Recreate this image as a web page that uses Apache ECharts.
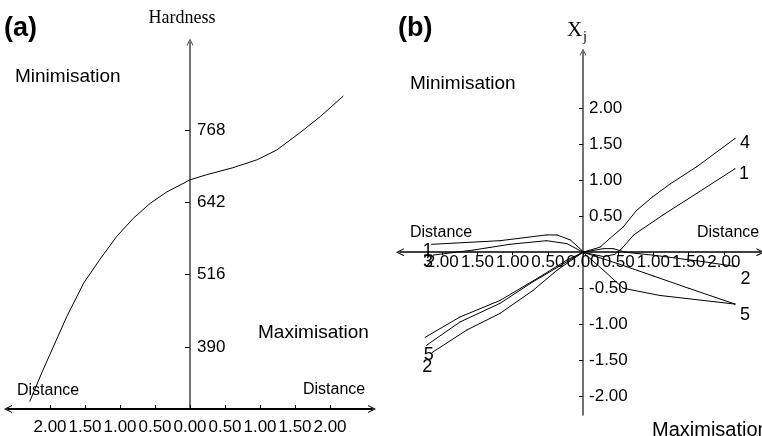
<!DOCTYPE html>
<html>
<head>
<meta charset="utf-8">
<script src="https://cdn.jsdelivr.net/npm/echarts@6.0.0/dist/echarts.min.js"></script>
<style>
  html, body { margin: 0; padding: 0; background: #fff; }
  #chart { width: 762px; height: 436px; }
</style>
</head>
<body>
<div id="chart"></div>
<script>
// panel (a): hardness against distance
const hardnessCurve = [
  [-2.29, 295], [-2.10, 350], [-1.76, 443], [-1.52, 501], [-1.29, 542],
  [-1.05, 582], [-0.81, 614], [-0.57, 640], [-0.33, 660], [0, 681],
  [0.24, 690], [0.61, 702], [0.96, 716], [1.24, 733], [1.57, 763],
  [1.86, 791], [2.19, 827]
];
const hardnessTicks = [390, 516, 642, 768];
const distanceTicks = [-2, -1.5, -1, -0.5, 0, 0.5, 1, 1.5, 2];

// panel (b): X_j traces, each listed from the origin outwards
const xjTicks = [-2, -1.5, -1, -0.5, 0.5, 1, 1.5, 2];
const minVar1 = [[0, 0], [-0.02, 0.03], [-0.18, 0.17], [-0.37, 0.24], [-0.52, 0.24], [-1.18, 0.16], [-2.15, 0.11]];
const minVar3 = [[0, 0], [-0.23, 0.12], [-0.52, 0.16], [-1.04, 0.11], [-1.56, 0.03], [-2.13, -0.04]];
const minVar4 = [[0, 0], [-0.23, -0.11], [-0.61, -0.34], [-1.18, -0.67], [-1.75, -0.90], [-2.24, -1.18]];
const minVar5 = [[0, 0], [-0.71, -0.41], [-1.18, -0.71], [-1.75, -0.97], [-2.22, -1.29]];
const minVar2 = [[0, 0], [-0.37, -0.25], [-0.71, -0.53], [-1.18, -0.85], [-1.65, -1.08], [-2.14, -1.39]];
const maxVar4 = [[0, 0], [0.24, 0.07], [0.38, 0.19], [0.57, 0.35], [0.76, 0.58], [0.99, 0.77], [1.24, 0.95], [1.62, 1.19], [2.16, 1.58]];
const maxVar1 = [[0, 0], [0.29, -0.06], [0.45, -0.03], [0.55, 0.05], [0.72, 0.24], [1.14, 0.52], [1.62, 0.82], [2.16, 1.16]];
const maxVar2 = [[0, 0], [0.29, 0.05], [0.43, 0.05], [0.6, 0.0], [0.99, -0.04], [1.7, -0.13], [2.18, -0.2]];
const maxVar5 = [[0, 0], [0.5, -0.16], [1.0, -0.33], [1.5, -0.5], [2.16, -0.72]];
const maxVar3 = [[0, 0], [0.29, -0.25], [0.57, -0.5], [1.09, -0.6], [2.16, -0.72]];

const tickFont = "'Liberation Sans', Arial, sans-serif";
const wordFont = "'Liberation Sans', Arial, sans-serif";
const chevron = 'path://M0,10 L5,0 L10,10 L8.6,10 L5,2.8 L1.4,10 Z';

// pixel layout of the two panels
const gridA = { left: 8, width: 364, top: 42, height: 367 };
const gridB = { left: 400, width: 360.4, top: 52, height: 363 };
const xMinA = -2.6, xMaxA = 2.6, yMinA = 282, yMaxA = 921;
const xMinB = -2.6, xMaxB = 2.52, yMinB = -2.26, yMaxB = 2.78;
// offsets that put each axis on the other axis' zero
const zeroOffsetAY = -gridA.width * (0 - xMinA) / (xMaxA - xMinA);
const zeroOffsetBY = -gridB.width * (0 - xMinB) / (xMaxB - xMinB);
const zeroOffsetBX = -gridB.height * (0 - yMinB) / (yMaxB - yMinB);

const myChart = echarts.init(document.getElementById('chart'), null, { renderer: 'canvas' });

const absLabel = (v) => Math.abs(v).toFixed(2);

// attach the trace number to the last point of a trace
const tagEnd = (points, text, offset) => points.map((p, i) => {
  if (i !== points.length - 1 || !text) return p;
  return {
    value: p,
    label: {
      show: true, formatter: text, position: 'inside', offset: offset,
      fontFamily: tickFont, fontSize: 18, color: '#000'
    }
  };
});

const traceSeries = (points, text, offset) => ({
  type: 'line',
  xAxisIndex: 1,
  yAxisIndex: 1,
  data: tagEnd(points, text, offset),
  showSymbol: true,
  symbol: 'circle',
  symbolSize: 1,
  itemStyle: { color: '#000' },
  lineStyle: { color: '#000', width: 1 },
  silent: true,
  z: 3
});

const labelBase = {
  fontFamily: tickFont, fontSize: 17, color: '#000',
  showMinLabel: true, showMaxLabel: true, hideOverlap: false
};

const option = {
  animation: false,
  backgroundColor: '#fff',
  grid: [gridA, gridB],
  xAxis: [
    {
      type: 'value', gridIndex: 0, min: xMinA, max: xMaxA,
      splitLine: { show: false },
      axisLine: {
        onZero: false,
        lineStyle: { color: '#000', width: 2 },
        symbol: [chevron, chevron], symbolSize: [8, 8]
      },
      axisTick: { customValues: distanceTicks, length: 4, inside: true, lineStyle: { color: '#000' } },
      axisLabel: Object.assign({ customValues: distanceTicks, formatter: absLabel, margin: 10 }, labelBase)
    },
    {
      type: 'value', gridIndex: 1, min: xMinB, max: xMaxB,
      position: 'bottom', offset: zeroOffsetBX,
      splitLine: { show: false },
      axisLine: {
        onZero: false,
        lineStyle: { color: '#000', width: 1.5 },
        symbol: [chevron, chevron], symbolSize: [8, 8]
      },
      axisTick: { customValues: distanceTicks, length: 3, lineStyle: { color: '#000' } },
      axisLabel: Object.assign({ customValues: distanceTicks, formatter: absLabel, margin: 2 }, labelBase)
    }
  ],
  yAxis: [
    {
      type: 'value', gridIndex: 0, min: yMinA, max: yMaxA,
      position: 'left', offset: zeroOffsetAY,
      splitLine: { show: false },
      axisLine: {
        onZero: false,
        lineStyle: { color: '#444', width: 1.5 },
        symbol: ['none', chevron], symbolSize: [7, 7]
      },
      axisTick: { customValues: hardnessTicks, length: 5, lineStyle: { color: '#000' } },
      axisLabel: Object.assign({ customValues: hardnessTicks, inside: true, margin: 7 }, labelBase)
    },
    {
      type: 'value', gridIndex: 1, min: yMinB, max: yMaxB,
      position: 'left', offset: zeroOffsetBY,
      splitLine: { show: false },
      axisLine: {
        onZero: false,
        lineStyle: { color: '#444', width: 1.5 },
        symbol: ['none', chevron], symbolSize: [7, 7]
      },
      axisTick: { customValues: xjTicks, length: 4, lineStyle: { color: '#000' } },
      axisLabel: Object.assign({
        customValues: xjTicks, inside: true, margin: 6,
        formatter: (v) => v.toFixed(2)
      }, labelBase)
    }
  ],
  series: [
    {
      type: 'line', xAxisIndex: 0, yAxisIndex: 0,
      data: hardnessCurve, showSymbol: false, silent: true,
      lineStyle: { color: '#000', width: 1 }
    },
    traceSeries(minVar1, '1', [-4, 7]),
    traceSeries(minVar3, '3', [-5, 7]),
    traceSeries(minVar4, '', [0, 0]),
    traceSeries(minVar5, '5', [2, 10]),
    traceSeries(minVar2, '2', [-5, 15]),
    traceSeries(maxVar4, '4', [10, 5]),
    traceSeries(maxVar1, '1', [9, 5]),
    traceSeries(maxVar2, '2', [9, 12]),
    traceSeries(maxVar5, '5', [10, 11]),
    traceSeries(maxVar3, '', [0, 0])
  ],
  graphic: [
    { type: 'text', x: 4, y: 29, style: { text: '(a)', font: "bold 27px 'Liberation Sans', Arial, sans-serif", fill: '#000', verticalAlign: 'middle', textVerticalAlign: 'middle' } },
    { type: 'text', x: 182, y: 18, style: { text: 'Hardness', font: "18px 'Liberation Serif', serif", fill: '#000', align: 'center', textAlign: 'center', verticalAlign: 'middle', textVerticalAlign: 'middle' } },
    { type: 'text', x: 15, y: 77, style: { text: 'Minimisation', font: '19px ' + wordFont, fill: '#000', verticalAlign: 'middle', textVerticalAlign: 'middle' } },
    { type: 'text', x: 258, y: 333, style: { text: 'Maximisation', font: '19px ' + wordFont, fill: '#000', verticalAlign: 'middle', textVerticalAlign: 'middle' } },
    { type: 'text', x: 17, y: 391, style: { text: 'Distance', font: '16px ' + wordFont, fill: '#000', verticalAlign: 'middle', textVerticalAlign: 'middle' } },
    { type: 'text', x: 303, y: 390, style: { text: 'Distance', font: '16px ' + wordFont, fill: '#000', verticalAlign: 'middle', textVerticalAlign: 'middle' } },
    { type: 'text', x: 398, y: 29, style: { text: '(b)', font: "bold 27px 'Liberation Sans', Arial, sans-serif", fill: '#000', verticalAlign: 'middle', textVerticalAlign: 'middle' } },
    { type: 'text', x: 567, y: 30, style: { text: 'X', font: "21px 'Liberation Serif', serif", fill: '#000', verticalAlign: 'middle', textVerticalAlign: 'middle' } },
    { type: 'text', x: 583, y: 37, style: { text: 'j', font: "14px 'Liberation Serif', serif", fill: '#000', verticalAlign: 'middle', textVerticalAlign: 'middle' } },
    { type: 'text', x: 410, y: 84, style: { text: 'Minimisation', font: '19px ' + wordFont, fill: '#000', verticalAlign: 'middle', textVerticalAlign: 'middle' } },
    { type: 'text', x: 410, y: 233, style: { text: 'Distance', font: '16px ' + wordFont, fill: '#000', verticalAlign: 'middle', textVerticalAlign: 'middle' } },
    { type: 'text', x: 697, y: 233, style: { text: 'Distance', font: '16px ' + wordFont, fill: '#000', verticalAlign: 'middle', textVerticalAlign: 'middle' } },
    { type: 'text', x: 652, y: 430, style: { text: 'Maximisation', font: '20px ' + wordFont, fill: '#000', verticalAlign: 'middle', textVerticalAlign: 'middle' } }
  ]
};

myChart.setOption(option);
</script>
</body>
</html>
